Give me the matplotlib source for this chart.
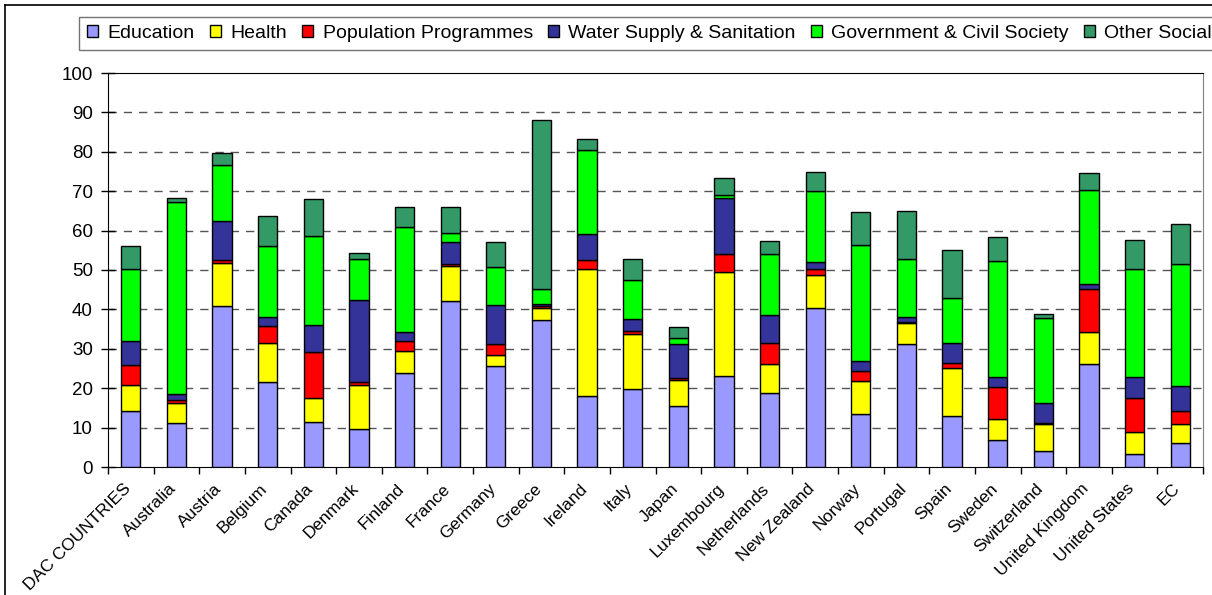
import numpy as np
import matplotlib
matplotlib.use("Agg")
import matplotlib.pyplot as plt
import matplotlib.transforms as mtransforms
from matplotlib.lines import Line2D
from matplotlib.patches import Patch

plt.rcParams["font.family"] = ["Liberation Sans", "DejaVu Sans"]

# カテゴリ
countries = [
    "DAC COUNTRIES", "Australia", "Austria", "Belgium", "Canada", "Denmark",
    "Finland", "France", "Germany", "Greece", "Ireland", "Italy", "Japan",
    "Luxembourg", "Netherlands", "New Zealand", "Norway", "Portugal", "Spain",
    "Sweden", "Switzerland", "United Kingdom", "United States", "EC",
]

# 系列ごとの値 (%)
education = [14.3, 11.2, 40.8, 21.5, 11.4, 9.6, 23.9, 42.1, 25.7, 37.4, 18.1, 19.8,
             15.6, 23.2, 18.9, 40.4, 13.5, 31.2, 13.0, 6.9, 4.1, 26.1, 3.2, 6.2]
health = [6.5, 5.0, 11.0, 10.0, 6.1, 11.2, 5.5, 8.9, 2.7, 3.0, 32.2, 14.0,
          6.6, 26.3, 7.2, 8.4, 8.3, 5.3, 12.1, 5.3, 6.7, 8.1, 5.7, 4.6]
population = [5.0, 0.7, 0.7, 4.3, 11.6, 0.7, 2.7, 0.4, 2.7, 0.4, 2.3, 0.6,
              0.4, 4.6, 5.4, 1.5, 2.6, 0.4, 1.4, 8.0, 0.4, 11.0, 8.6, 3.4]
water = [6.2, 1.6, 9.9, 2.3, 6.9, 21.0, 2.1, 5.7, 10.0, 0.6, 6.5, 3.2,
         8.6, 14.3, 7.0, 1.8, 2.4, 1.2, 5.0, 2.6, 5.0, 1.3, 5.3, 6.4]
government = [18.3, 48.8, 14.2, 17.9, 22.7, 10.2, 26.7, 2.4, 9.7, 3.7, 21.3, 9.9,
              1.5, 0.6, 15.6, 18.0, 29.6, 14.7, 11.5, 29.4, 21.7, 23.9, 27.5, 30.8]
other_social = [5.8, 1.1, 3.1, 7.8, 9.3, 1.7, 5.2, 6.6, 6.2, 42.9, 2.8, 5.2,
                2.8, 4.4, 3.3, 4.9, 8.3, 12.2, 12.2, 6.2, 0.9, 4.2, 7.4, 10.4]

series = [
    ("Education", education, "#9999FF"),
    ("Health", health, "#FFFF00"),
    ("Population Programmes", population, "#FF0000"),
    ("Water Supply & Sanitation", water, "#333399"),
    ("Government & Civil Society", government, "#00FF00"),
    ("Other Social", other_social, "#339966"),
]

fig = plt.figure(figsize=(12.12, 5.95), dpi=100)
ax = fig.add_axes([108 / 1212, 1 - 467 / 595, 1095 / 1212, 394 / 595])

x = np.arange(len(countries))
bottom = np.zeros(len(countries))
for name, vals, col in series:
    vals = np.array(vals)
    ax.bar(x, vals, width=0.42, bottom=bottom, color=col, edgecolor="black",
           linewidth=1.0, zorder=3, label=name)
    bottom += vals

# 軸の設定
ax.set_xlim(-0.5, len(countries) - 0.5)
ax.set_ylim(0, 100)
ax.set_yticks(np.arange(0, 101, 10))
ax.tick_params(axis="y", direction="inout", length=10, width=1, pad=6,
               labelsize=13.5)
ax.set_xticks(x)
ax.set_xticklabels(countries, rotation=45, ha="right", va="top",
                   rotation_mode="anchor", fontsize=12.5)
ax.tick_params(axis="x", length=0, pad=10)
ax.set_xticks(np.arange(-0.5, len(countries), 1), minor=True)
ax.tick_params(axis="x", which="minor", direction="out", length=5, width=1)

# ラベルを少し左へずらす
shift = mtransforms.ScaledTranslation(-8 / 100, 0, fig.dpi_scale_trans)
for lbl in ax.get_xticklabels():
    lbl.set_transform(lbl.get_transform() + shift)

for yv in range(10, 100, 10):
    ax.axhline(yv, color="#555555", linewidth=1, linestyle=(0, (6, 5)), zorder=1)

ax.spines["left"].set_color("black")
ax.spines["bottom"].set_color("black")
ax.spines["top"].set_color("black")
ax.spines["right"].set_color("#808080")

# 凡例
handles = [Patch(facecolor=c, edgecolor="black", linewidth=1) for _, _, c in series]
labels = [n for n, _, _ in series]
leg = fig.legend(handles, labels, loc="upper left", ncol=6,
                 bbox_to_anchor=(79 / 1212, 1 - 17 / 595), fontsize=14,
                 frameon=True, fancybox=False, borderpad=0.42,
                 handlelength=0.55, handleheight=0.55, handletextpad=0.5,
                 columnspacing=0.78, borderaxespad=0)
leg.get_frame().set_edgecolor("#505050")
leg.get_frame().set_linewidth(1)

# 外枠
fig.add_artist(Line2D([5 / 1212, 5 / 1212], [0, 1 - 5 / 595], color="black",
                      linewidth=1.2, transform=fig.transFigure))
fig.add_artist(Line2D([5 / 1212, 1], [1 - 5 / 595, 1 - 5 / 595], color="black",
                      linewidth=1.2, transform=fig.transFigure))

fig.savefig("out.png", dpi=100)
